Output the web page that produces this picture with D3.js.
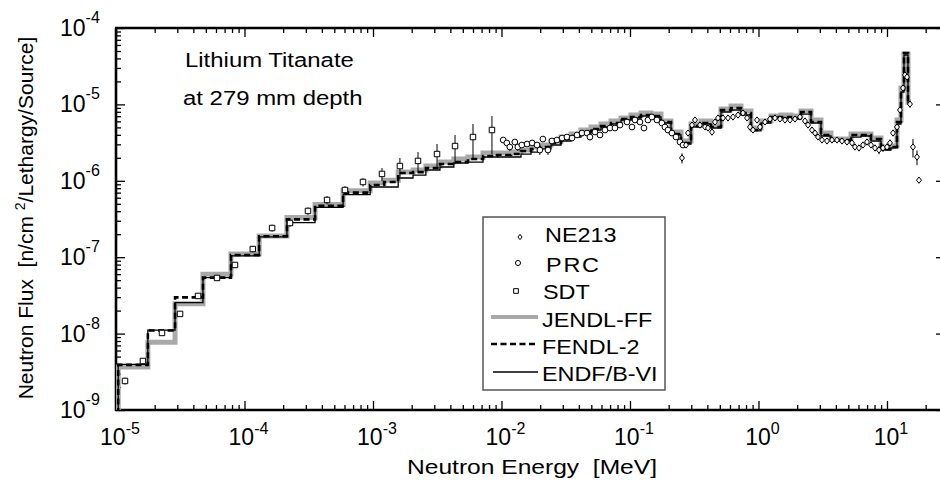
<!DOCTYPE html>
<html>
<head>
<meta charset="utf-8">
<script src="https://cdn.jsdelivr.net/npm/d3@7"></script>
<style>
  body { margin: 0; background: #fff; }
  svg { display: block; }
  text { font-family: "Liberation Sans", Arial, Helvetica, sans-serif; fill: #000; white-space: pre; }
</style>
</head>
<body>
<div id="graphicContainer"></div>
<script>

// calculated spectra: group boundaries [MeV] and flux per group
const calcEdges = [1.04e-5, 1.77e-5, 2.88e-5, 4.75e-5, 7.85e-5, 1.30e-4, 2.14e-4, 3.54e-4, 5.85e-4, 9.5e-4,
  1.22e-3, 1.57e-3, 2.05e-3, 2.58e-3, 3.32e-3, 4.26e-3, 5.48e-3, 7.18e-3, 9.22e-3, 1.186e-2,
  0.01418, 0.01697, 0.0203, 0.02428, 0.02904, 0.03474, 0.04156, 0.04971, 0.05946, 0.07113,
  0.08511, 0.1018, 0.1218, 0.1457, 0.1743, 0.2085, 0.2494, 0.2984, 0.3569, 0.427,
  0.5108, 0.6109, 0.7309, 0.8743, 1.046, 1.251, 1.497, 1.79, 2.141, 2.562,
  3.065, 3.666, 4.385, 5.246, 6.277, 7.508, 8.982, 10.74, 11.96, 12.85,
  13.56, 14.57, 15.38]

const jendlFF = [3.65e-9, 7.7e-9, 2.45e-8, 5.97e-8, 1.10e-7, 1.90e-7, 3.3e-7, 4.9e-7, 7.4e-7,
  9.36e-7, 1.02e-6, 1.30e-6, 1.385e-6, 1.56e-6, 1.76e-6, 1.93e-6, 2.05e-6, 2.31e-6, 2.31e-6,
  2.38e-6, 2.53e-6, 2.77e-6, 2.94e-6, 3.32e-6, 3.74e-6, 4.10e-6, 4.62e-6, 5.06e-6, 5.54e-6,
  6.06e-6, 6.64e-6, 7.26e-6, 7.72e-6, 7.48e-6, 6.06e-6, 4.35e-6, 3.32e-6, 5.54e-6, 6.06e-6,
  5.37e-6, 8.71e-6, 9.53e-6, 8.20e-6, 4.91e-6, 6.06e-6, 7.05e-6, 7.26e-6, 7.05e-6, 8.20e-6,
  6.25e-6, 4.22e-6, 3.52e-6, 3.52e-6, 4.10e-6, 4.10e-6, 3.63e-6, 2.77e-6, 2.85e-6, 6.25e-6,
  1.64e-5, 4.57e-5, 1.075e-5]

const fendl2 = [3.9e-9, 1.10e-8, 2.98e-8, 5.4e-8, 1.07e-7, 1.88e-7, 3.13e-7, 4.72e-7, 7.0e-7,
  8.81e-7, 9.65e-7, 1.265e-6, 1.30e-6, 1.47e-6, 1.66e-6, 1.76e-6, 1.93e-6, 2.11e-6, 2.18e-6,
  2.24e-6, 2.455e-6, 2.61e-6, 2.77e-6, 3.13e-6, 3.52e-6, 3.86e-6, 4.35e-6, 4.76e-6, 5.22e-6,
  5.71e-6, 6.44e-6, 6.84e-6, 7.26e-6, 7.05e-6, 5.88e-6, 4.10e-6, 3.13e-6, 5.22e-6, 5.71e-6,
  5.06e-6, 8.45e-6, 8.97e-6, 7.72e-6, 4.62e-6, 5.88e-6, 6.84e-6, 6.84e-6, 6.64e-6, 7.95e-6,
  5.88e-6, 3.98e-6, 3.42e-6, 3.42e-6, 3.98e-6, 3.98e-6, 3.52e-6, 2.61e-6, 2.77e-6, 5.88e-6,
  1.543e-5, 4.71e-5, 1.043e-5]

const endfB6 = [3.96e-9, 1.11e-8, 2.54e-8, 5.4e-8, 1.04e-7, 1.85e-7, 2.83e-7, 4.5e-7, 6.6e-7,
  8.30e-7, 8.30e-7, 1.088e-6, 1.19e-6, 1.385e-6, 1.516e-6, 1.71e-6, 1.76e-6, 2.05e-6, 2.05e-6,
  2.05e-6, 2.24e-6, 2.38e-6, 2.61e-6, 2.94e-6, 3.32e-6, 3.74e-6, 4.22e-6, 4.62e-6, 5.06e-6,
  5.54e-6, 6.25e-6, 6.64e-6, 7.05e-6, 6.84e-6, 5.71e-6, 3.98e-6, 3.03e-6, 5.06e-6, 5.54e-6,
  4.91e-6, 7.95e-6, 8.45e-6, 7.26e-6, 4.49e-6, 5.71e-6, 6.64e-6, 6.64e-6, 6.44e-6, 7.48e-6,
  5.71e-6, 3.86e-6, 3.32e-6, 3.32e-6, 3.74e-6, 3.86e-6, 3.32e-6, 2.53e-6, 2.69e-6, 5.54e-6,
  1.453e-5, 4.43e-5, 1.01e-5]

// measured: SDT (low energy)
const sdtEnergy = [1.175e-5, 1.62e-5, 2.28e-5, 3.15e-5, 4.35e-5, 6.11e-5, 8.43e-5, 1.16e-4, 1.64e-4, 2.26e-4,
  3.12e-4, 4.39e-4, 6.05e-4, 8.36e-4, 1.175e-3, 1.62e-3, 2.24e-3, 3.15e-3, 4.35e-3, 6.0e-3, 8.43e-3]
const sdtFlux = [2.40e-9, 4.38e-9, 1.02e-8, 1.81e-8, 3.11e-8, 5.35e-8, 7.91e-8, 1.28e-7, 2.41e-7, 2.80e-7,
  4.03e-7, 5.61e-7, 7.58e-7, 9.65e-7, 1.23e-6, 1.56e-6, 1.82e-6, 2.24e-6, 2.85e-6, 3.74e-6, 4.62e-6]
const sdtErr = [0.25e-9, 0.4e-9, 0.08e-8, 0.15e-8, 0.25e-8, 0.4e-8, 0.7e-8, 0.12e-7, 0.25e-7, 0.3e-7,
  0.45e-7, 0.7e-7, 0.9e-7, 1.2e-7, 2.4e-7, 4.3e-7, 5.6e-7, 7.9e-7, 1.12e-6, 1.8e-6, 2.4e-6]

// measured: PRC
const prcEnergy = [0.0103, 0.0110, 0.0116, 0.0127, 0.0134, 0.0144, 0.0158, 0.0173, 0.0189, 0.0199,
  0.0210, 0.0230, 0.0247, 0.0270, 0.0296, 0.0323, 0.0354, 0.0387, 0.0423, 0.0463,
  0.0488, 0.0534, 0.0584, 0.0639, 0.0699, 0.0764, 0.0836, 0.0948, 0.1036, 0.1094,
  0.1196, 0.1285, 0.138, 0.148, 0.162, 0.177, 0.187, 0.1975, 0.212, 0.228, 0.245, 0.2585]
const prcFlux = [3.42e-6, 3.13e-6, 2.77e-6, 3.22e-6, 2.77e-6, 2.94e-6, 3.03e-6, 3.13e-6, 2.94e-6, 2.53e-6,
  3.52e-6, 2.53e-6, 3.32e-6, 3.42e-6, 3.63e-6, 3.74e-6, 3.63e-6, 3.98e-6, 4.22e-6, 4.22e-6,
  3.74e-6, 4.35e-6, 3.98e-6, 4.62e-6, 4.91e-6, 4.91e-6, 5.37e-6, 5.88e-6, 5.06e-6, 6.25e-6,
  5.88e-6, 4.91e-6, 6.25e-6, 6.84e-6, 6.25e-6, 5.71e-6, 5.06e-6, 4.62e-6, 4.22e-6, 3.74e-6, 3.22e-6, 2.94e-6]
const prcErr = [0.25e-6, 0.2e-6, 0.3e-6, 0.2e-6, 0.3e-6, 0.2e-6, 0.2e-6, 0.2e-6, 0.25e-6, 0.35e-6,
  0.2e-6, 0.35e-6, 0.2e-6, 0.2e-6, 0.2e-6, 0.2e-6, 0.2e-6, 0.2e-6, 0.2e-6, 0.2e-6,
  0.35e-6, 0.2e-6, 0.25e-6, 0.2e-6, 0.2e-6, 0.2e-6, 0.2e-6, 0.2e-6, 0.4e-6, 0.2e-6,
  0.2e-6, 0.45e-6, 0.2e-6, 0.2e-6, 0.2e-6, 0.2e-6, 0.2e-6, 0.2e-6, 0.2e-6, 0.2e-6, 0.2e-6, 0.2e-6]

// measured: NE213
const ne213Energy = [0.2539, 0.2728, 0.2828, 0.3038, 0.3205, 0.3505, 0.3835, 0.4046, 0.4346, 0.4587,
  0.484, 0.5294, 0.5789, 0.6332, 0.6926, 0.7575, 0.8139, 0.8589, 0.9061, 0.9734,
  1.027, 1.124, 1.229, 1.344, 1.47, 1.608, 1.759, 1.923, 2.104, 2.301,
  2.428, 2.608, 2.753, 2.904, 3.12, 3.413, 3.733, 4.083, 4.465, 4.883,
  5.341, 5.636, 6.055, 6.505, 6.989, 7.508, 8.066, 8.663, 9.309, 10.0,
  10.55, 11.14, 11.96, 12.62, 13.32, 13.81, 14.31, 15.10, 15.93, 17.12, 17.74]
const ne213Flux = [1.99e-6, 2.94e-6, 4.22e-6, 5.37e-6, 6.25e-6, 5.37e-6, 5.06e-6, 4.91e-6, 4.35e-6, 5.88e-6,
  6.64e-6, 6.64e-6, 6.64e-6, 6.84e-6, 7.26e-6, 7.72e-6, 6.64e-6, 5.06e-6, 4.62e-6, 6.25e-6,
  5.06e-6, 5.88e-6, 6.44e-6, 6.64e-6, 6.44e-6, 6.25e-6, 6.25e-6, 6.44e-6, 6.84e-6, 6.06e-6,
  5.37e-6, 4.62e-6, 4.22e-6, 3.74e-6, 3.42e-6, 3.32e-6, 3.42e-6, 3.42e-6, 3.32e-6, 3.22e-6,
  3.13e-6, 2.77e-6, 2.69e-6, 2.94e-6, 3.22e-6, 2.94e-6, 2.69e-6, 2.53e-6, 2.69e-6, 2.77e-6,
  3.13e-6, 4.22e-6, 5.06e-6, 8.45e-6, 1.64e-5, 2.43e-5, 2.28e-5, 1.01e-5, 2.77e-6, 2.05e-6, 1.02e-6]
const ne213Err = [0.3e-6, 0.2e-6, 0.15e-6, 0.15e-6, 0.15e-6, 0.15e-6, 0.15e-6, 0.2e-6, 0.4e-6, 0.15e-6,
  0.15e-6, 0.15e-6, 0.15e-6, 0.15e-6, 0.15e-6, 0.15e-6, 0.15e-6, 0.3e-6, 0.3e-6, 0.15e-6,
  0.2e-6, 0.15e-6, 0.15e-6, 0.15e-6, 0.15e-6, 0.15e-6, 0.15e-6, 0.15e-6, 0.15e-6, 0.15e-6,
  0.15e-6, 0.15e-6, 0.15e-6, 0.15e-6, 0.15e-6, 0.15e-6, 0.15e-6, 0.15e-6, 0.15e-6, 0.15e-6,
  0.15e-6, 0.2e-6, 0.2e-6, 0.2e-6, 0.2e-6, 0.2e-6, 0.25e-6, 0.3e-6, 0.3e-6, 0.3e-6,
  0.3e-6, 0.3e-6, 0.4e-6, 0.6e-6, 1.0e-6, 1.2e-6, 1.2e-6, 1.0e-6, 0.75e-6, 0.45e-6, 0.05e-6]

const xTickExps = [-5, -4, -3, -2, -1, 0, 1]
const yTickExps = [-9, -8, -7, -6, -5, -4]

const noteLines = ["Lithium Titanate", "at 279 mm depth"]
const legendLabels = ["NE213", "PRC", "SDT", "JENDL-FF", "FENDL-2", "ENDF/B-VI"]

const width = 940
const height = 480
const plot = { left: 116, right: 942, top: 28, bottom: 410 }

const svg = d3.select("#graphicContainer").append("svg")
  .attr("width", width)
  .attr("height", height)

const x = d3.scaleLog().domain([1e-5, 26.8]).range([plot.left, plot.right])
const y = d3.scaleLog().domain([1e-9, 1e-4]).range([plot.bottom, plot.top])

const isDecade = v => Math.abs(Math.log10(v) - Math.round(Math.log10(v))) < 1e-6
const xMajor = x.ticks().filter(isDecade)
const xMinor = x.ticks().filter(v => !isDecade(v))
const yMajor = y.ticks().filter(isDecade)
const yMinor = y.ticks().filter(v => !isDecade(v))

// ticks, all pointing into the plot
function tickLayer(axis, tx, ty) {
  const g = svg.append("g")
    .attr("transform", `translate(${tx},${ty})`)
    .call(axis)
  g.select(".domain").remove()
  g.selectAll(".tick line").attr("stroke", "#000").attr("stroke-width", 1.3)
  g.selectAll(".tick text").remove()
  return g
}

tickLayer(d3.axisBottom(x).tickValues(xMajor).tickSize(9), 0, plot.top)
tickLayer(d3.axisBottom(x).tickValues(xMinor).tickSize(5), 0, plot.top)
tickLayer(d3.axisTop(x).tickValues(xMajor).tickSize(9), 0, plot.bottom)
tickLayer(d3.axisTop(x).tickValues(xMinor).tickSize(5), 0, plot.bottom)
tickLayer(d3.axisRight(y).tickValues(yMajor).tickSize(9), plot.left, 0)
tickLayer(d3.axisRight(y).tickValues(yMinor).tickSize(5), plot.left, 0)
tickLayer(d3.axisLeft(y).tickValues(yMajor).tickSize(6), plot.right, 0)

// frame
const frame = svg.append("g").attr("stroke", "#000").attr("stroke-width", 2.6)
frame.append("line").attr("x1", plot.left - 1).attr("x2", plot.right).attr("y1", plot.top).attr("y2", plot.top)
frame.append("line").attr("x1", plot.left - 1).attr("x2", plot.right).attr("y1", plot.bottom).attr("y2", plot.bottom)
frame.append("line").attr("x1", plot.left).attr("x2", plot.left).attr("y1", plot.top).attr("y2", plot.bottom + 1)

// tick labels
xTickExps.forEach(e => {
  const t = svg.append("text")
    .attr("x", x(Math.pow(10, e)) + 4)
    .attr("y", 445)
    .attr("text-anchor", "middle")
    .style("font-size", "23px")
  t.append("tspan").text("10")
  t.append("tspan").attr("dy", -11).style("font-size", "16px").text(e)
})

yTickExps.forEach(e => {
  const t = svg.append("text")
    .attr("x", 60)
    .attr("y", y(Math.pow(10, e)) + 8)
    .style("font-size", "23px")
  t.append("tspan").text("10")
  t.append("tspan").attr("dy", -13).style("font-size", "16px").text(e)
})

// axis titles
svg.append("g")
  .attr("transform", "translate(532,474) scale(1.2,1)")
  .append("text")
  .attr("text-anchor", "middle")
  .style("font-size", "20.5px")
  .text("Neutron Energy  [MeV]")

const yTitle = svg.append("text")
  .attr("transform", "translate(33,218) rotate(-90)")
  .attr("text-anchor", "middle")
  .style("font-size", "21px")
yTitle.append("tspan").text("Neutron Flux  [n/cm ")
yTitle.append("tspan").attr("dy", -8).style("font-size", "14px").text("2")
yTitle.append("tspan").attr("dy", 8).text("/Lethargy/Source]")

// annotation
noteLines.forEach((s, i) => {
  svg.append("g")
    .attr("transform", `translate(${i ? 183 : 185},${i ? 105 : 67}) scale(1.14,1)`)
    .append("text")
    .style("font-size", "21px")
    .text(s)
})

// data area
svg.append("clipPath").attr("id", "plotClip")
  .append("rect")
  .attr("x", plot.left).attr("y", plot.top)
  .attr("width", plot.right - plot.left).attr("height", plot.bottom - plot.top)

const dataG = svg.append("g").attr("clip-path", "url(#plotClip)")

const stepLine = d3.line()
  .x(d => x(d[0]))
  .y(d => y(d[1]))
  .curve(d3.curveStepAfter)

function stepPoints(vals) {
  const pts = [[calcEdges[0], 5e-10]]
  vals.forEach((v, i) => pts.push([calcEdges[i], v]))
  pts.push([calcEdges[calcEdges.length - 1], vals[vals.length - 1]])
  return pts
}

const calcSeries = [
  { vals: jendlFF, color: "#a9a9a9", width: 5, dash: null },
  { vals: fendl2, color: "#000", width: 2.6, dash: "6,3.5" },
  { vals: endfB6, color: "#000", width: 1.3, dash: null }
]

calcSeries.forEach(s => {
  dataG.append("path")
    .attr("d", stepLine(stepPoints(s.vals)))
    .attr("fill", "none")
    .attr("stroke", s.color)
    .attr("stroke-width", s.width)
    .attr("stroke-dasharray", s.dash)
    .attr("stroke-linejoin", "miter")
})

const diamond = {
  draw(ctx, size) {
    const h = Math.sqrt(size) / 2
    ctx.moveTo(0, -h * 1.15)
    ctx.lineTo(h * 0.9, 0)
    ctx.lineTo(0, h * 1.15)
    ctx.lineTo(-h * 0.9, 0)
    ctx.closePath()
  }
}

const measured = [
  { e: prcEnergy, f: prcFlux, err: prcErr, symbol: d3.symbol(d3.symbolCircle, 26) },
  { e: ne213Energy, f: ne213Flux, err: ne213Err, symbol: d3.symbol(diamond, 30) },
  { e: sdtEnergy, f: sdtFlux, err: sdtErr, symbol: d3.symbol(d3.symbolSquare, 30) }
]

measured.forEach(m => {
  const rows = m.e.map((e, i) => ({ e: e, f: m.f[i], err: m.err[i] }))
  dataG.append("g")
    .selectAll("line")
    .data(rows)
    .enter()
    .append("line")
    .attr("x1", d => x(d.e))
    .attr("x2", d => x(d.e))
    .attr("y1", d => y(Math.max(d.f - d.err, 1e-10)))
    .attr("y2", d => y(d.f + d.err))
    .attr("stroke", "#000")
    .attr("stroke-width", 1)
  dataG.append("g")
    .selectAll("path")
    .data(rows)
    .enter()
    .append("path")
    .attr("transform", d => `translate(${x(d.e)},${y(d.f)})`)
    .attr("d", m.symbol())
    .attr("fill", "#fff")
    .attr("stroke", "#000")
    .attr("stroke-width", 1)
})

// legend
const legend = svg.append("g")

legend.append("rect")
  .attr("x", 483).attr("y", 217)
  .attr("width", 182).attr("height", 173)
  .attr("fill", "#fff")
  .attr("stroke", "#555")
  .attr("stroke-width", 1.5)

const legendRows = [242, 272, 299, 327, 354, 381]
const legendTextX = [545, 546, 543, 542, 542, 542]
const legendMarkers = [
  { cx: 520, cy: 237, symbol: d3.symbol(diamond, 22) },
  { cx: 518, cy: 263, symbol: d3.symbol(d3.symbolCircle, 20) },
  { cx: 516, cy: 291, symbol: d3.symbol(d3.symbolSquare, 22) }
]

legendMarkers.forEach(mk => {
  legend.append("path")
    .attr("transform", `translate(${mk.cx},${mk.cy})`)
    .attr("d", mk.symbol())
    .attr("fill", "#fff")
    .attr("stroke", "#000")
    .attr("stroke-width", 1)
})

const legendLinesY = [317, 344, 372]
calcSeries.forEach((s, i) => {
  legend.append("line")
    .attr("x1", i === 2 ? 493 : 491).attr("x2", 538)
    .attr("y1", legendLinesY[i]).attr("y2", legendLinesY[i])
    .attr("stroke", s.color)
    .attr("stroke-width", i === 0 ? 4 : s.width)
    .attr("stroke-dasharray", s.dash)
})

legendLabels.forEach((s, i) => {
  legend.append("g")
    .attr("transform", `translate(${legendTextX[i]},${legendRows[i]}) scale(1.2,1)`)
    .append("text")
    .style("font-size", "19.5px")
    .style("letter-spacing", s === "PRC" ? "1.5px" : null)
    .text(s)
})

</script>
</body>
</html>
